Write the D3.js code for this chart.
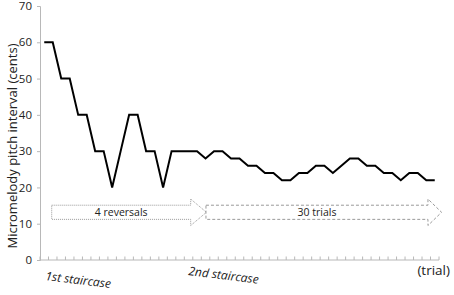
<!DOCTYPE html>
<html>
<head>
<meta charset="utf-8">
<script src="https://cdn.jsdelivr.net/npm/d3@7"></script>
<style>
  body { margin: 0; background: #fff; }
  svg text { font-family: "Open Sans", "Noto Sans", sans-serif; fill: #222; }
</style>
</head>
<body>
<div id="chart"></div>
<script>
  // pitch interval per trial (cents)
  var trials = d3.range(47);
  var intervals = [60, 60, 50, 50, 40, 40, 30, 30, 20, 30, 40, 40, 30, 30, 20, 30,
                   30, 30, 30, 28, 30, 30, 28, 28, 26, 26, 24, 24, 22, 22, 24, 24,
                   26, 26, 24, 26, 28, 28, 26, 26, 24, 24, 22, 24, 24, 22, 22];
  var yTicks = [0, 10, 20, 30, 40, 50, 60, 70];

  // annotation arrows, in trial / cents units
  var arrows = [
    {label: "4 reversals", x0: 0.88, x1: 17.25, x2: 19.1, dash: "1,1"},
    {label: "30 trials", x0: 19.05, x1: 45.2, x2: 46.8, dash: "3,2"}
  ];
  var arrowBody = [11.2, 15.1], arrowHead = [9.5, 16.8];

  (function() {
    var width = 454, height = 295;
    var mLeft = 40, mRight = 439, mTop = 6, mBottom = 260;

    var svg = d3.select("#chart").append("svg")
      .attr("width", width)
      .attr("height", height);

    var x = d3.scaleBand().domain(trials).range([mLeft, mRight]);
    var y = d3.scaleLinear().domain([0, 70]).range([mBottom, mTop]);
    var xi = d3.scaleLinear().domain([0, 46])
      .range([x(0) + x.bandwidth() / 2, x(46) + x.bandwidth() / 2]);

    // y axis
    var yAxis = svg.append("g")
      .attr("transform", "translate(" + mLeft + ",0)")
      .call(d3.axisLeft(y).tickValues(yTicks).tickSize(3).tickPadding(5));
    yAxis.selectAll("path, line").attr("stroke", "#b8b8b8");
    yAxis.selectAll("text").style("font-size", "11.5px").attr("fill", "#222");

    // x axis, ticks between categories pointing up
    var xg = svg.append("g");
    xg.append("line")
      .attr("x1", mLeft).attr("x2", mRight)
      .attr("y1", mBottom).attr("y2", mBottom)
      .attr("stroke", "#b8b8b8");
    xg.selectAll(".tick").data(d3.range(48)).enter()
      .append("line")
      .attr("x1", function(d) { return mLeft + d * x.step(); })
      .attr("x2", function(d) { return mLeft + d * x.step(); })
      .attr("y1", mBottom).attr("y2", mBottom - 3.5)
      .attr("stroke", "#b8b8b8");

    // staircase line
    var line = d3.line()
      .x(function(d, i) { return x(i) + x.bandwidth() / 2; })
      .y(function(d) { return y(d); });
    svg.append("path")
      .datum(intervals)
      .attr("d", line)
      .attr("fill", "none")
      .attr("stroke", "#000")
      .attr("stroke-width", 2)
      .attr("stroke-linejoin", "miter");

    // arrows
    arrows.forEach(function(a) {
      var pts = [
        [xi(a.x0), y(arrowBody[1])], [xi(a.x1), y(arrowBody[1])],
        [xi(a.x1), y(arrowHead[1])], [xi(a.x2), y((arrowHead[0] + arrowHead[1]) / 2)],
        [xi(a.x1), y(arrowHead[0])], [xi(a.x1), y(arrowBody[0])],
        [xi(a.x0), y(arrowBody[0])]
      ];
      svg.append("path")
        .attr("d", "M" + pts.join("L") + "Z")
        .attr("fill", "#fff")
        .attr("stroke", "#9a9a9a")
        .attr("stroke-width", 1)
        .attr("stroke-dasharray", a.dash);
      svg.append("text")
        .attr("x", (xi(a.x0) + xi(a.x1)) / 2)
        .attr("y", y((arrowBody[0] + arrowBody[1]) / 2) + 4)
        .attr("text-anchor", "middle")
        .style("font-size", "10.5px")
        .text(a.label);
    });

    // y label
    svg.append("text")
      .attr("transform", "translate(17," + ((mTop + mBottom) / 2 + 13) + ") rotate(-90)")
      .attr("text-anchor", "middle")
      .style("font-size", "13px")
      .text("Micromelody pitch interval (cents)");

    // staircase labels
    svg.append("text")
      .attr("transform", "translate(45,280) rotate(7)")
      .style("font-size", "12px")
      .style("font-style", "italic")
      .text("1st staircase");
    svg.append("text")
      .attr("transform", "translate(188,275) rotate(7)")
      .style("font-size", "12px")
      .style("font-style", "italic")
      .text("2nd staircase");
    svg.append("text")
      .attr("x", 450).attr("y", 275)
      .attr("text-anchor", "end")
      .style("font-size", "13.5px")
      .text("(trial)");
  }());
</script>
</body>
</html>
